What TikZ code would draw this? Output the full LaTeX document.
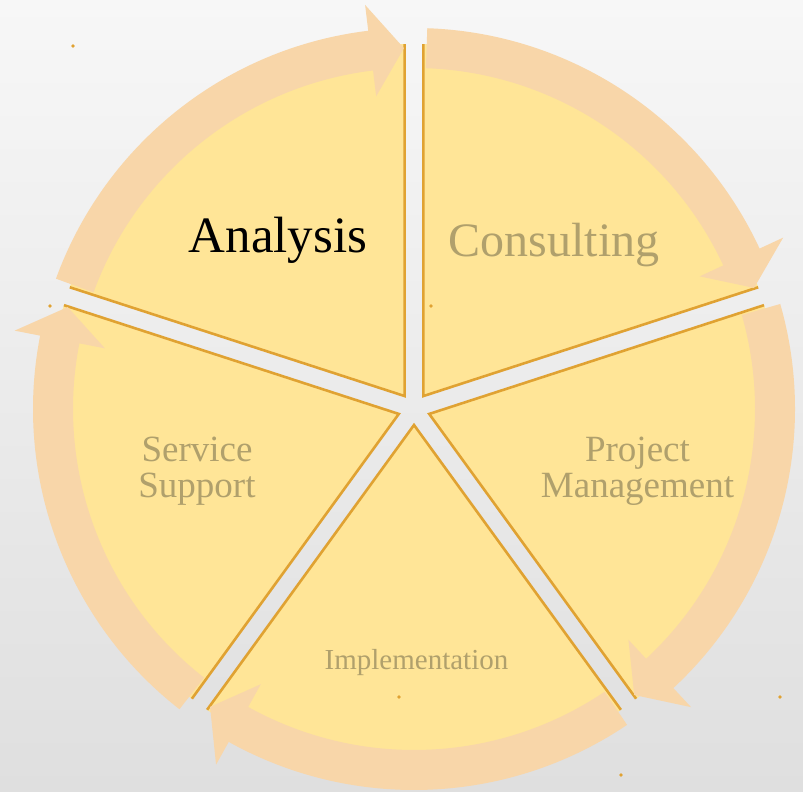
\documentclass[tikz,border=0pt]{standalone}
\usepackage{fontspec}
\setmainfont{Liberation Serif}
\definecolor{bgtop}{HTML}{F7F7F7}
\definecolor{bgbot}{HTML}{DFDFDF}
\definecolor{slicefill}{HTML}{FFE597}
\definecolor{sliceedge}{HTML}{E0A232}
\definecolor{ringcol}{HTML}{F8D6A9}
\definecolor{embfg}{HTML}{B0A06C}
\tikzset{
  lbl/.style={inner sep=0pt, anchor=base, font=\fontsize{#1}{#1}\selectfont},
  emb/.style={lbl=#1, text=embfg},
  slicebody/.style={fill=slicefill},
  sliceline/.style={draw=sliceedge, line width=2.6pt, line join=miter},
  ringarrow/.style={fill=ringcol},
  dotmark/.style={fill=sliceedge},
}
\begin{document}
\begin{tikzpicture}[x=1pt,y=1pt]
\shade[top color=bgtop,bottom color=bgbot] (0,0) rectangle (803,792);
\useasboundingbox (0,0) rectangle (803,792);
\coordinate (C) at (414,383);

% exploded pie slices
\foreach \b in {126,54,-18,-90,-162}{
  \fill[slicebody, shift={(C)}, shift={(\b:16)}]
    (0,0) -- ({\b-36}:352) arc[start angle={\b-36}, end angle={\b+36}, radius=352] -- cycle;
  \draw[sliceline, shift={(C)}, shift={(\b:16)}]
    ({\b-36}:352) -- (0,0) -- ({\b+36}:352);
}

% circular arrows
\foreach \a/\t in {232/163.6, 160/91.6, 88/19.6, 16/-52.4, -56/-124.4}{
  \pgfmathsetmacro{\hb}{\t+5.3}
  \fill[ringarrow, shift={(C)}]
    (\a:381) arc[start angle=\a, end angle=\hb, radius=381]
    -- (\hb:407) -- (\t:361) -- (\hb:315) -- (\hb:341)
    arc[start angle=\hb, end angle=\a, radius=341] -- cycle;
}

% small dots
\foreach \p in {(73,746),(50,486),(431,486),(399,95),(780,95),(621,17)}{
  \fill[dotmark] \p circle (1.8);
}

% labels
\node[lbl=51, text=black] (ana) at (278,539) {Analysis};
\node[emb=48] (con) at (554,535) {Consulting};
\node[emb=37] (ser) at (197,330) {Service};
\node[emb=37] (sup) at (197,294) {Support};
\node[emb=37] (pro) at (637.5,330) {Project};
\node[emb=37] (man) at (637.5,294) {Management};
\node[emb=29] (imp) at (416.5,122) {Implementation};
\end{tikzpicture}
\end{document}
